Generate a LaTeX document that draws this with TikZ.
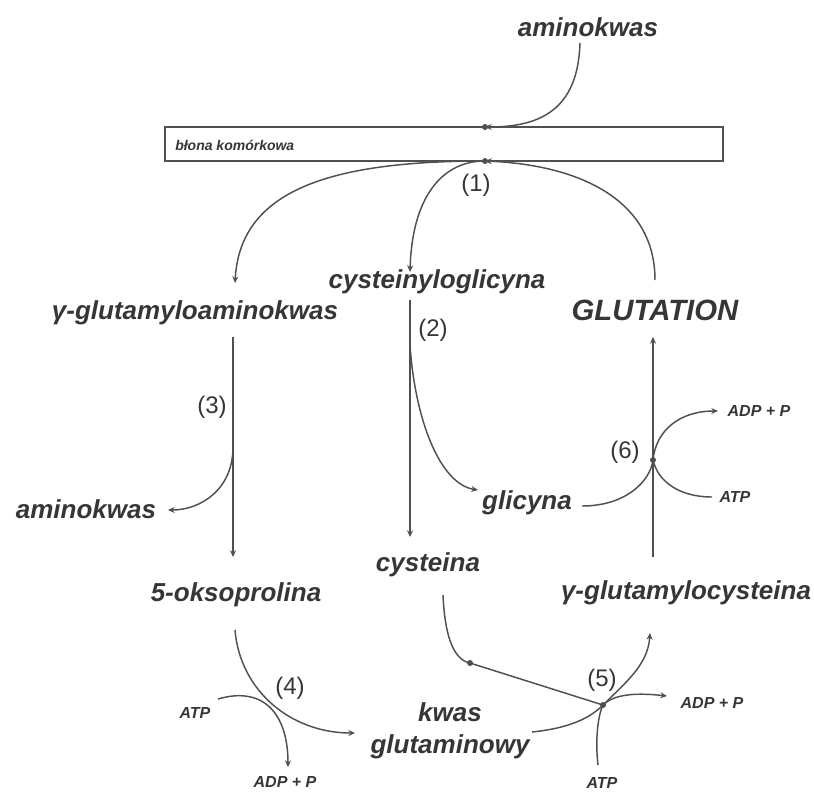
\documentclass[tikz,border=0pt]{standalone}
\usepackage{fontspec}
\setmainfont{Liberation Sans}
\usetikzlibrary{arrows.meta}
\definecolor{txt}{HTML}{363636}
\definecolor{ln}{HTML}{505050}
\begin{document}
\begin{tikzpicture}[x=0.75pt,y=-0.75pt,
  lbl/.style={text=txt,inner sep=0pt,font=\fontsize{19.5}{24}\selectfont\bfseries\itshape},
  big/.style={text=txt,inner sep=0pt,font=\fontsize{22}{26}\selectfont\bfseries\itshape},
  num/.style={text=txt,inner sep=0pt,font=\fontsize{18}{22}\selectfont},
  sml/.style={text=txt,inner sep=0pt,font=\fontsize{12}{14}\selectfont\bfseries\itshape},
  con/.style={draw=ln,line width=1.1pt},
  arr/.style={con,-{Stealth[length=5pt,width=4.5pt]}},
  jdot/.style={circle,fill=ln,inner sep=0pt,minimum size=4.5pt}]
\useasboundingbox (0,0) rectangle (814,794);
% membrane
\node[draw=ln,line width=1.1pt,minimum width=418.5pt,minimum height=25.5pt,inner sep=0pt] (mem) at (444,144) {};
\node[anchor=west,text=txt,inner sep=0pt,font=\fontsize{10.5}{12}\selectfont\bfseries\itshape] (memtxt) at (175,145) {błona komórkowa};
\coordinate (dtop) at (485,127);
\coordinate (dbot) at (485,161);
% labels
\node[lbl] (amtop) at (588,27) {aminokwas};
\node[lbl] (ggam) at (195,313) {γ-glutamyloaminokwas};
\node[lbl] (cysgly) at (437,282) {cysteinyloglicyna};
\node[big] (glut) at (655,310) {GLUTATION};
\node[lbl] (amleft) at (86,509) {aminokwas};
\node[lbl] (glic) at (527,503) {glicyna};
\node[lbl] (cys) at (428,565) {cysteina};
\node[lbl] (oxo) at (236,595) {5-oksoprolina};
\node[lbl] (ggcys) at (686,593) {γ-glutamylocysteina};
\node[lbl,align=center] (kwas) at (450,731) {kwas\\glutaminowy};
\node[num] (n1) at (476,185) {(1)};
\node[num] (n2) at (433,330) {(2)};
\node[num] (n3) at (212,407) {(3)};
\node[num] (n4) at (290,688) {(4)};
\node[num] (n5) at (602,680) {(5)};
\node[num] (n6) at (625,452) {(6)};
\node[sml] (atp4) at (195,713) {ATP};
\node[sml] (adp4) at (285,782) {ADP + P};
\node[sml] (atp5) at (602,783) {ATP};
\node[sml] (adp5) at (712,703) {ADP + P};
\node[sml] (atp6) at (735,497) {ATP};
\node[sml] (adp6) at (759,411) {ADP + P};
% junction coordinates
\coordinate (j3) at (233,447);
\coordinate (j2) at (410,345);
\coordinate (j6) at (653,460);
\coordinate (j5) at (603,705);
\coordinate (jc) at (470,663);
% membrane transport
\draw[arr] (amtop.south) ++(-8,6) coordinate (a0) .. controls (578,110) and (540,127) .. (dtop);
\draw[arr] (dbot) .. controls (330,161) and (240,190) .. (235,283) coordinate (ggamtop);
\draw[arr] (dbot) .. controls (440,161) and (412,200) .. (410,272) coordinate (cysglytop);
\draw[arr] (655,280) coordinate (gluttop) .. controls (655,200) and (580,165) .. (dbot);
% (3)
\draw[arr] (233,337) coordinate (ggambot) -- (233,557) coordinate (oxotop);
\draw[arr] (j3) .. controls (233,490) and (200,510) .. (168,510) coordinate (amlefte);
% (2)
\draw[arr] (410,300) coordinate (cysglybot) -- (410,537) coordinate (cystop);
\draw[arr] (j2) .. controls (415,420) and (440,484) .. (478,490) coordinate (glicw);
% (6)
\draw[arr] (653,557) coordinate (ggcystop) -- (653,337) coordinate (glutbot);
\draw[con] (582,506) coordinate (glice) .. controls (625,506) and (650,482) .. (j6);
\draw[arr] (j6) .. controls (656,430) and (680,411) .. (718,411) coordinate (adp6w);
\draw[con] (712,497) coordinate (atp6w) .. controls (680,497) and (658,482) .. (j6);
% (4)
\draw[arr] (235,630) coordinate (oxobot) .. controls (240,690) and (290,733) .. (355,733) coordinate (kwasw);
\draw[arr] (218,699) coordinate (atp4e) .. controls (262,686) and (288,712) .. (288,767) coordinate (adp4n);
% (5)
\draw[con] (443,595) coordinate (cysbot) .. controls (445,640) and (455,660) .. (jc) -- (j5);
\draw[con] (532,732) coordinate (kwase) .. controls (570,728) and (590,718) .. (j5);
\draw[arr] (j5) .. controls (625,683) and (648,665) .. (650,633) coordinate (ggcysbot);
\draw[arr] (j5) .. controls (615,693) and (640,693) .. (667,696) coordinate (adp5w);
\draw[con] (598,765) coordinate (atp5n) .. controls (595,740) and (598,715) .. (j5);
% dots
\node[jdot] at (dtop) {};
\node[jdot] at (dbot) {};
\node[jdot] at (j6) {};
\node[jdot] at (j5) {};
\node[jdot] at (jc) {};
\end{tikzpicture}
\end{document}
